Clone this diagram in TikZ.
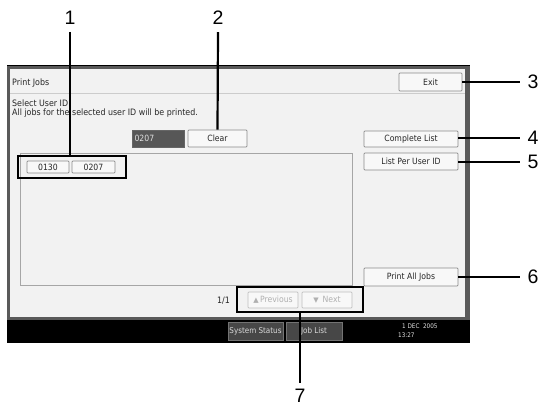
\documentclass[tikz,border=0pt]{standalone}
\usepackage{fontspec}
\setmainfont{Liberation Sans}
\newfontfamily\scr{DejaVu Sans Condensed}
\newfontfamily\symf{DejaVu Sans}
\definecolor{scrbg}{HTML}{F2F2F2}
\definecolor{frm}{HTML}{5A5A5A}
\definecolor{btnbd}{HTML}{8A8A8A}
\definecolor{btnfill}{HTML}{F8F8F8}
\definecolor{distxt}{HTML}{B0B0B0}
\tikzset{
  scrtext/.style={font=\scr\fontsize{8.8}{9}\selectfont, text=black!85, inner sep=0pt},
  btn/.style={draw=btnbd, fill=btnfill, line width=0.7pt, rounded corners=0.8pt, font=\scr\fontsize{8.6}{9}\selectfont, text=black!85, inner sep=0pt},
  disbtn/.style={draw=black!25, fill=btnfill, line width=0.7pt, rounded corners=0.8pt, font=\scr\fontsize{8.6}{9}\selectfont, text=distxt, inner sep=0pt},
  barbtn/.style={draw=black!55, fill=black!72, line width=0.7pt, font=\scr\fontsize{8}{9}\selectfont, text=black!15, inner sep=0pt},
  hl/.style={draw=black, line width=2.2pt, inner sep=0pt},
  lead/.style={draw=black, line width=2.2pt},
  num/.style={font=\fontsize{19.5}{20}\selectfont, inner sep=0pt},
}
\begin{document}
\begin{tikzpicture}[x=1pt,y=-1pt]
\useasboundingbox (0,0) rectangle (541,406);
\fill[white] (0,0) rectangle (541,406);
% screen frame
\fill[frm] (7,65) rectangle (470,320);
\fill[scrbg] (10,69) rectangle (465,317);
\draw[black, line width=0.8pt] (7,65) -- (470,65);
\fill[black] (7,320) rectangle (470,343);
\draw[black!20, line width=0.6pt] (10,93) -- (465,93);
% texts
\node[scrtext, anchor=west] (title) at (12,83) {Print Jobs};
\node[scrtext, anchor=west] (sel1) at (12,103) {Select User ID};
\node[scrtext, anchor=west] (sel2) at (12,113) {All jobs for the selected user ID will be printed.};
% input box and clear
\node[draw=black!60, fill=black!66, minimum width=52pt, minimum height=17pt, inner sep=0pt,
      font=\scr\fontsize{8.6}{9}\selectfont, text=black!12, text width=47pt, align=left] (inp) at (158,138.5) {0207};
\node[btn, minimum width=59pt, minimum height=17pt] (clear) at (217.5,138.5) {Clear};
% list box
\node[draw=black!35, line width=0.8pt, minimum width=332pt, minimum height=132pt, inner sep=0pt] (listbox) at (186,219) {};
\node[btn, minimum width=42pt, minimum height=12pt] (b0130) at (48,167) {0130};
\node[btn, minimum width=43pt, minimum height=12pt] (b0207) at (93.5,167) {0207};
\node[hl, minimum width=108pt, minimum height=22pt] (hl1) at (72,167) {};
% right buttons
\node[btn, minimum width=63pt, minimum height=18pt] (exit) at (430.5,82) {Exit};
\node[btn, minimum width=94pt, minimum height=16pt] (clist) at (411,139) {Complete List};
\node[btn, minimum width=94pt, minimum height=17pt] (lpuid) at (411,161.5) {List Per User ID};
\node[btn, minimum width=94pt, minimum height=18pt] (pall) at (411,277) {Print All Jobs};
% paging
\node[scrtext, anchor=east] (page) at (230,301) {1/1};
\node[disbtn, minimum width=50pt, minimum height=16pt] (prev) at (273,300) {{\symf\fontsize{7}{7}\selectfont ▲}\,Previous};
\node[disbtn, minimum width=50pt, minimum height=16pt] (next) at (327,300) {{\symf\fontsize{7}{7}\selectfont ▼}\ \,Next};
\node[hl, minimum width=126pt, minimum height=25pt] (hl7) at (300,299.5) {};
% bottom bar
\node[barbtn, minimum width=55pt, minimum height=18pt] (sysst) at (255.5,331) {System Status};
\node[barbtn, minimum width=56pt, minimum height=18pt] (joblist) at (314,331) {Job List};
\node[font=\scr\fontsize{6.3}{7}\selectfont, text=black!10, inner sep=0pt, anchor=west] (date) at (402,326) {1 DEC\ \ 2005};
\node[font=\scr\fontsize{6.3}{7}\selectfont, text=black!10, inner sep=0pt, anchor=west] (time) at (398,335) {13:27};
% callout numbers
\node[num] (l1) at (70,18) {1};
\node[num] (l2) at (218,18) {2};
\node[num] (l3) at (533,82) {3};
\node[num] (l4) at (533,138) {4};
\node[num] (l5) at (533,162) {5};
\node[num] (l6) at (533,277) {6};
\node[num] (l7) at (300,396) {7};
% leaders
\draw[lead] ([yshift=-7pt]l1.south) -- (l1 |- hl1.north);
\draw[lead] ([yshift=-7pt]l2.south) -- (clear.north);
\draw[lead] (exit.east) -- ([xshift=-7pt]l3.west |- exit.east);
\draw[lead] (clist.east |- l4) -- ([xshift=-7pt]l4.west);
\draw[lead] (lpuid.east |- l5) -- ([xshift=-7pt]l5.west);
\draw[lead] (pall.east) -- ([xshift=-7pt]l6.west |- pall.east);
\draw[lead] (hl7.south) -- ([yshift=6pt]l7.north);
\end{tikzpicture}
\end{document}
